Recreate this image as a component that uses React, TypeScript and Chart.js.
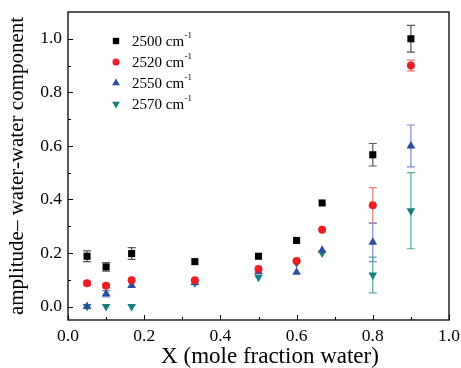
import React, { useEffect, useRef } from "react";
import { Chart, registerables } from "chart.js";

Chart.register(...registerables);

const xValues = [0.05, 0.1, 0.167, 0.333, 0.5, 0.6, 0.667, 0.8, 0.9];
const s2500 = [0.188, 0.148, 0.198, 0.168, 0.188, 0.247, 0.387, 0.567, 1.0];
const e2500 = [0.02, 0.016, 0.022, 0, 0, 0, 0, 0.042, 0.05];
const s2520 = [0.087, 0.078, 0.098, 0.098, 0.14, 0.17, 0.287, 0.378, 0.9];
const e2520 = [0.008, 0.008, 0, 0, 0, 0, 0, 0.066, 0.02];
const s2550 = [0.0, 0.048, 0.079, 0.09, 0.13, 0.128, 0.21, 0.24, 0.6];
const e2550 = [0, 0.012, 0, 0, 0, 0, 0, 0.072, 0.078];
const s2570 = [0.0, 0.0, 0.0, 0.088, 0.11, 0.163, 0.2, 0.118, 0.358];
const e2570 = [0, 0, 0, 0, 0, 0, 0, 0.067, 0.142];
const seriesNames = ["2500", "2520", "2550", "2570"];
const xTicks = [0, 0.2, 0.4, 0.6, 0.8, 1.0];
const yTicks = [0, 0.2, 0.4, 0.6, 0.8, 1.0];

const FONT = "'Liberation Serif', serif";
Chart.defaults.font.family = FONT;

const colors = ["#000000", "#ee1d23", "#2b4ea2", "#17807e"];
const errColors = ["#555555", "#f27a6a", "#7d8cd0", "#5aa8a6"];
const styles = ["rect", "circle", "triangle", "triangle"];
const rotations = [0, 0, 0, 180];
const radii = [5, 4, 5, 5];
const allY = [s2500, s2520, s2550, s2570];
const allE = [e2500, e2520, e2550, e2570];

function drawMarker(ctx: CanvasRenderingContext2D, style: string, rot: number, r: number, x: number, y: number, color: string) {
  ctx.save();
  ctx.fillStyle = color;
  ctx.beginPath();
  if (style === "rect") {
    const s = r * Math.SQRT1_2;
    ctx.rect(x - s, y - s, 2 * s, 2 * s);
  } else if (style === "circle") {
    ctx.arc(x, y, r, 0, Math.PI * 2);
  } else {
    let rad = (rot * Math.PI) / 180;
    ctx.moveTo(x + Math.sin(rad) * r, y - Math.cos(rad) * r);
    rad += (2 * Math.PI) / 3;
    ctx.lineTo(x + Math.sin(rad) * r, y - Math.cos(rad) * r);
    rad += (2 * Math.PI) / 3;
    ctx.lineTo(x + Math.sin(rad) * r, y - Math.cos(rad) * r);
    ctx.closePath();
  }
  ctx.fill();
  ctx.restore();
}

const errorBarPlugin = {
  id: "errorBars",
  beforeDatasetsDraw(chart: any) {
    const ctx = chart.ctx;
    const xs = chart.scales.x;
    const ys = chart.scales.y;
    ctx.save();
    ctx.lineWidth = 1.2;
    allY.forEach((vals, si) => {
      ctx.strokeStyle = errColors[si];
      vals.forEach((v, i) => {
        const e = allE[si][i];
        if (!e) return;
        const px = xs.getPixelForValue(xValues[i]);
        const top = ys.getPixelForValue(v + e);
        const bot = ys.getPixelForValue(v - e);
        ctx.beginPath();
        ctx.moveTo(px, top);
        ctx.lineTo(px, bot);
        ctx.moveTo(px - 4, top);
        ctx.lineTo(px + 4, top);
        ctx.moveTo(px - 4, bot);
        ctx.lineTo(px + 4, bot);
        ctx.stroke();
      });
    });
    ctx.restore();
  },
};

const framePlugin = {
  id: "frame",
  afterDraw(chart: any) {
    const ctx = chart.ctx;
    const { left, right, top, bottom } = chart.chartArea;
    const xs = chart.scales.x;
    const ys = chart.scales.y;
    ctx.save();
    ctx.strokeStyle = "#000";
    ctx.lineWidth = 1.3;
    ctx.strokeRect(left, top, right - left, bottom - top);
    ctx.lineWidth = 1;
    ctx.beginPath();
    for (let i = 0; i <= 10; i++) {
      const v = i / 10;
      const len = i % 2 === 0 ? 5 : 3;
      const px = Math.round(xs.getPixelForValue(v)) + 0.5;
      ctx.moveTo(px, bottom);
      ctx.lineTo(px, bottom - len);
      const py = Math.round(ys.getPixelForValue(v)) + 0.5;
      ctx.moveTo(left, py);
      ctx.lineTo(left + len, py);
    }
    ctx.stroke();

    // legend
    const lx = 116;
    const ly0 = 41;
    const dy = 21;
    seriesNames.forEach((name, si) => {
      const y = ly0 + si * dy;
      drawMarker(ctx, styles[si], rotations[si], radii[si] - 0.5, lx, y, colors[si]);
      ctx.fillStyle = "#000";
      ctx.font = `15px ${FONT}`;
      ctx.textBaseline = "middle";
      ctx.textAlign = "left";
      const text = `${name} cm`;
      ctx.fillText(text, 132, y + 1);
      const w = ctx.measureText(text).width;
      ctx.font = `9px ${FONT}`;
      ctx.fillText("-1", 132 + w + 0.5, y - 5);
    });
    ctx.restore();
  },
};

export default function App() {
  const ref = useRef<HTMLCanvasElement | null>(null);
  useEffect(() => {
    if (!ref.current) return;
    const datasets = allY.map((vals, si) => ({
      label: seriesNames[si] + " cm-1",
      data: vals.map((v, i) => ({ x: xValues[i], y: v })),
      showLine: false,
      pointStyle: styles[si],
      rotation: rotations[si],
      pointRadius: radii[si],
      pointBackgroundColor: colors[si],
      pointBorderColor: colors[si],
      pointBorderWidth: 0,
    }));
    const zeroPad = (s: any) => {
      s.paddingTop = 0;
      s.paddingBottom = 0;
      s.paddingLeft = 0;
      s.paddingRight = 0;
    };
    const chart = new Chart(ref.current, {
      type: "scatter",
      data: { datasets: datasets as any },
      options: {
        animation: false,
        responsive: false,
        layout: { padding: { top: 12, right: 12, left: 0, bottom: 0 } },
        plugins: { legend: { display: false }, tooltip: { enabled: false } },
        scales: {
          x: {
            type: "linear",
            min: 0,
            max: 1.0,
            grid: { display: false, drawTicks: false },
            border: { display: false },
            afterBuildTicks: (s: any) => {
              s.ticks = xTicks.map((v) => ({ value: v }));
            },
            afterFit: (s: any) => {
              s.height = 48;
              zeroPad(s);
            },
            ticks: {
              padding: 6,
              color: "#000",
              font: { family: FONT, size: 17.5 },
              maxRotation: 0,
              callback: (v: any) => Number(v).toFixed(1),
            },
            title: {
              display: true,
              text: "\u00a0\u00a0\u00a0\u00a0X (mole fraction water)",
              color: "#000",
              font: { family: FONT, size: 23, lineHeight: 1 },
              padding: { top: 0, bottom: 0 },
            },
          },
          y: {
            type: "linear",
            min: -0.05,
            max: 1.1,
            grid: { display: false, drawTicks: false },
            border: { display: false },
            afterBuildTicks: (s: any) => {
              s.ticks = yTicks.map((v) => ({ value: v }));
            },
            afterFit: (s: any) => {
              s.width = 68;
              zeroPad(s);
            },
            ticks: {
              padding: 6,
              color: "#000",
              font: { family: FONT, size: 17.5 },
              callback: (v: any) => Number(v).toFixed(1),
            },
            title: {
              display: true,
              text: "amplitude\u2013 water-water component",
              color: "#000",
              font: { family: FONT, size: 21 },
              padding: { top: 5, bottom: 0 },
            },
          },
        },
      },
      plugins: [errorBarPlugin, framePlugin],
    } as any);
    return () => chart.destroy();
  }, []);
  return (
    <div style={{ position: "fixed", left: 0, top: 0, width: 461, height: 368, background: "#fff" }}>
      <canvas ref={ref} width={461} height={368} style={{ width: 461, height: 368 }} />
    </div>
  );
}
